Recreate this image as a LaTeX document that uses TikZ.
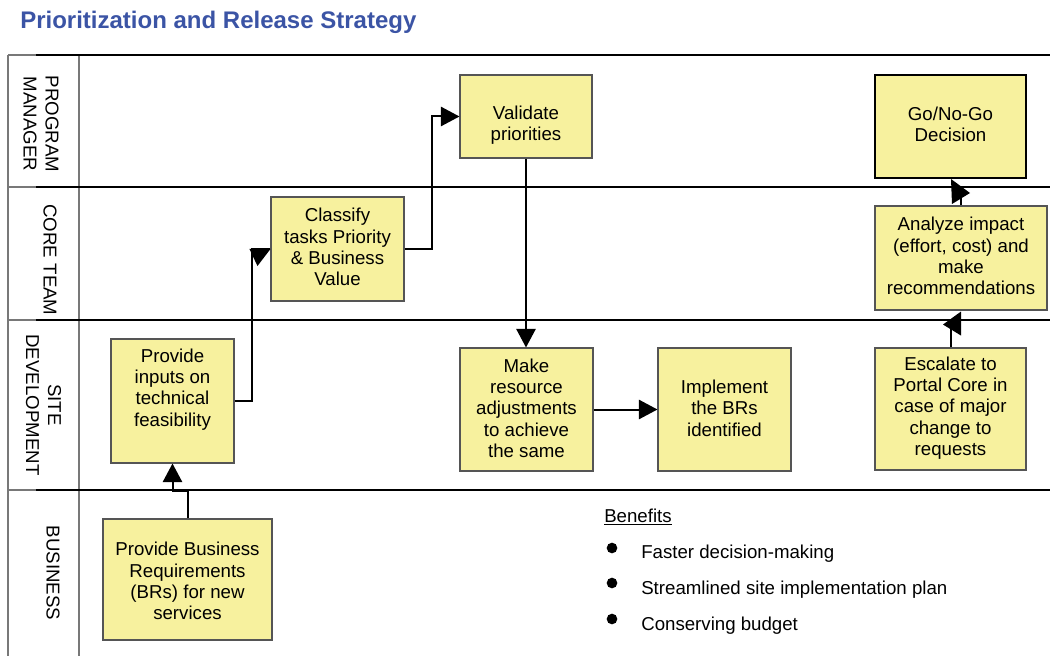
\documentclass[tikz,border=0pt]{standalone}
\usepackage{fontspec}
\setmainfont{Liberation Sans}
\usetikzlibrary{arrows.meta,calc}
\definecolor{titleblue}{RGB}{59,84,165}
\definecolor{boxfill}{RGB}{247,241,158}
\definecolor{boxline}{RGB}{85,85,85}
\definecolor{framegray}{RGB}{120,120,120}
\begin{document}
\begin{tikzpicture}[x=0.75pt,y=-0.75pt,
  box/.style={draw=boxline,line width=0.8pt,fill=boxfill,inner sep=0pt},
  boxsize/.style 2 args={minimum width=#1*0.75pt,minimum height=#2*0.75pt},
  boxtext/.style={align=center,inner sep=0pt,font=\fontsize{14}{16}\selectfont},
  lane/.style={align=center,inner sep=0pt,rotate=-90,font=\fontsize{14}{16.5}\selectfont},
  sep/.style={line width=1.3pt,black},
  framel/.style={line width=0.8pt,framegray},
  conn/.style={line width=1.5pt,black},
  tip/.style={-{Triangle[length=14pt,width=14.5pt]}},
  bullet/.style={circle,fill=black,inner sep=0pt,minimum size=8pt},
  item/.style={anchor=base west,inner sep=0pt,font=\fontsize{14}{16}\selectfont}]

\useasboundingbox (0,0) rectangle (1050,656);

% title
\node[anchor=base west,inner sep=0pt,text=titleblue,font=\fontsize{18}{20}\selectfont\bfseries]
  (title) at (20,29) {Prioritization and Release Strategy};

% swimlane frame
\draw[framel] (8,55) -- (8,656);
\draw[framel] (79,55) -- (79,656);
\foreach \yy in {55,187,320,490}{
  \draw[framel] (8,\yy) -- (36,\yy);
  \draw[sep] (36,\yy) -- (1050,\yy);
}

% lane labels
\node[lane] (pm) at (41,124) {PROGRAM\\MANAGER};
\node[lane] (ct) at (50,260) {CORE TEAM};
\node[lane] (sd) at (43.5,405) {SITE\\DEVELOPMENT};
\node[lane] (bu) at (53,573) {BUSINESS};

% process boxes
\node[box,boxsize={132}{83}]  (val) at (526,116.5) {};
\node[box,boxsize={151}{103},draw=black,line width=1.5pt] (go) at (950.5,126.5) {};
\node[box,boxsize={133}{104}] (cls) at (337.5,249) {};
\node[box,boxsize={172}{104}] (ana) at (961,258) {};
\node[box,boxsize={123}{124}] (inp) at (172.5,401) {};
\node[box,boxsize={169}{121}] (br)  at (187.5,579.5) {};
\node[box,boxsize={133}{123}] (mk)  at (526.5,409.5) {};
\node[box,boxsize={133}{123}] (imp) at (724.5,409.5) {};
\node[box,boxsize={151}{122}] (esc) at (950.5,409) {};

% box texts
\node[boxtext] (val-t) at (526,125.5) {Validate\\priorities};
\node[boxtext] (go-t)  at (950.5,124.5) {Go/No-Go\\Decision};
\node[boxtext] (cls-t) at (337.5,247) {Classify\\tasks Priority\\\& Business\\Value};
\node[boxtext] (ana-t) at (961,256) {Analyze impact\\(effort, cost) and\\make\\recommendations};
\node[boxtext] (inp-t) at (172.5,389.5) {Provide\\inputs on\\technical\\feasibility};
\node[boxtext] (br-t)  at (187.5,581) {Provide Business\\Requirements\\(BRs) for new\\services};
\node[boxtext] (mk-t)  at (526.5,408) {Make\\resource\\adjustments\\to achieve\\the same};
\node[boxtext] (imp-t) at (724.5,408) {Implement\\the BRs\\identified};
\node[boxtext] (esc-t) at (950.5,408) {Escalate to\\Portal Core in\\case of major\\change to\\requests};

% connectors
\draw[conn,tip] (br.north) -- (br.north |- 0,491) -| (inp.south);
\draw[conn] (inp.east) -| ($(cls.west)+(-18,0)$) -- (cls.west);
\fill ($(cls.west)+(-21,0)$) -- (cls.west) -- ($(cls.west)+(-13,17)$) -- cycle;
\draw[conn,tip] (cls.east) -| ($(val.west)+(-27,0)$) -- (val.west);
\draw[conn,tip] (val.south) -- (val.south |- mk.north);
\draw[conn,tip] (mk.east) -- (imp.west);
\draw[conn] (esc.north) -- ++(0,-24);
\fill ($(ana.south)+(0,1)$) -- ($(ana.south)+(-18,14)$) -- ($(ana.south)+(0,25)$) -- cycle;
\draw[conn] (ana.north) -- ++(0,-14);
\fill ($(go.south)+(0.5,0)$) -- ($(go.south)+(19.5,14)$) -- ($(go.south)+(1.5,25)$) -- cycle;

% benefits list
\node[item] (ben) at (604,522) {\underline{Benefits}};
\node[bullet] (b1) at (612,548) {};
\node[bullet] (b2) at (612,583) {};
\node[bullet] (b3) at (612,619) {};
\node[item] (i1) at (641,558) {Faster decision-making};
\node[item] (i2) at (641,594) {Streamlined site implementation plan};
\node[item] (i3) at (641,630) {Conserving budget};

\end{tikzpicture}
\end{document}
